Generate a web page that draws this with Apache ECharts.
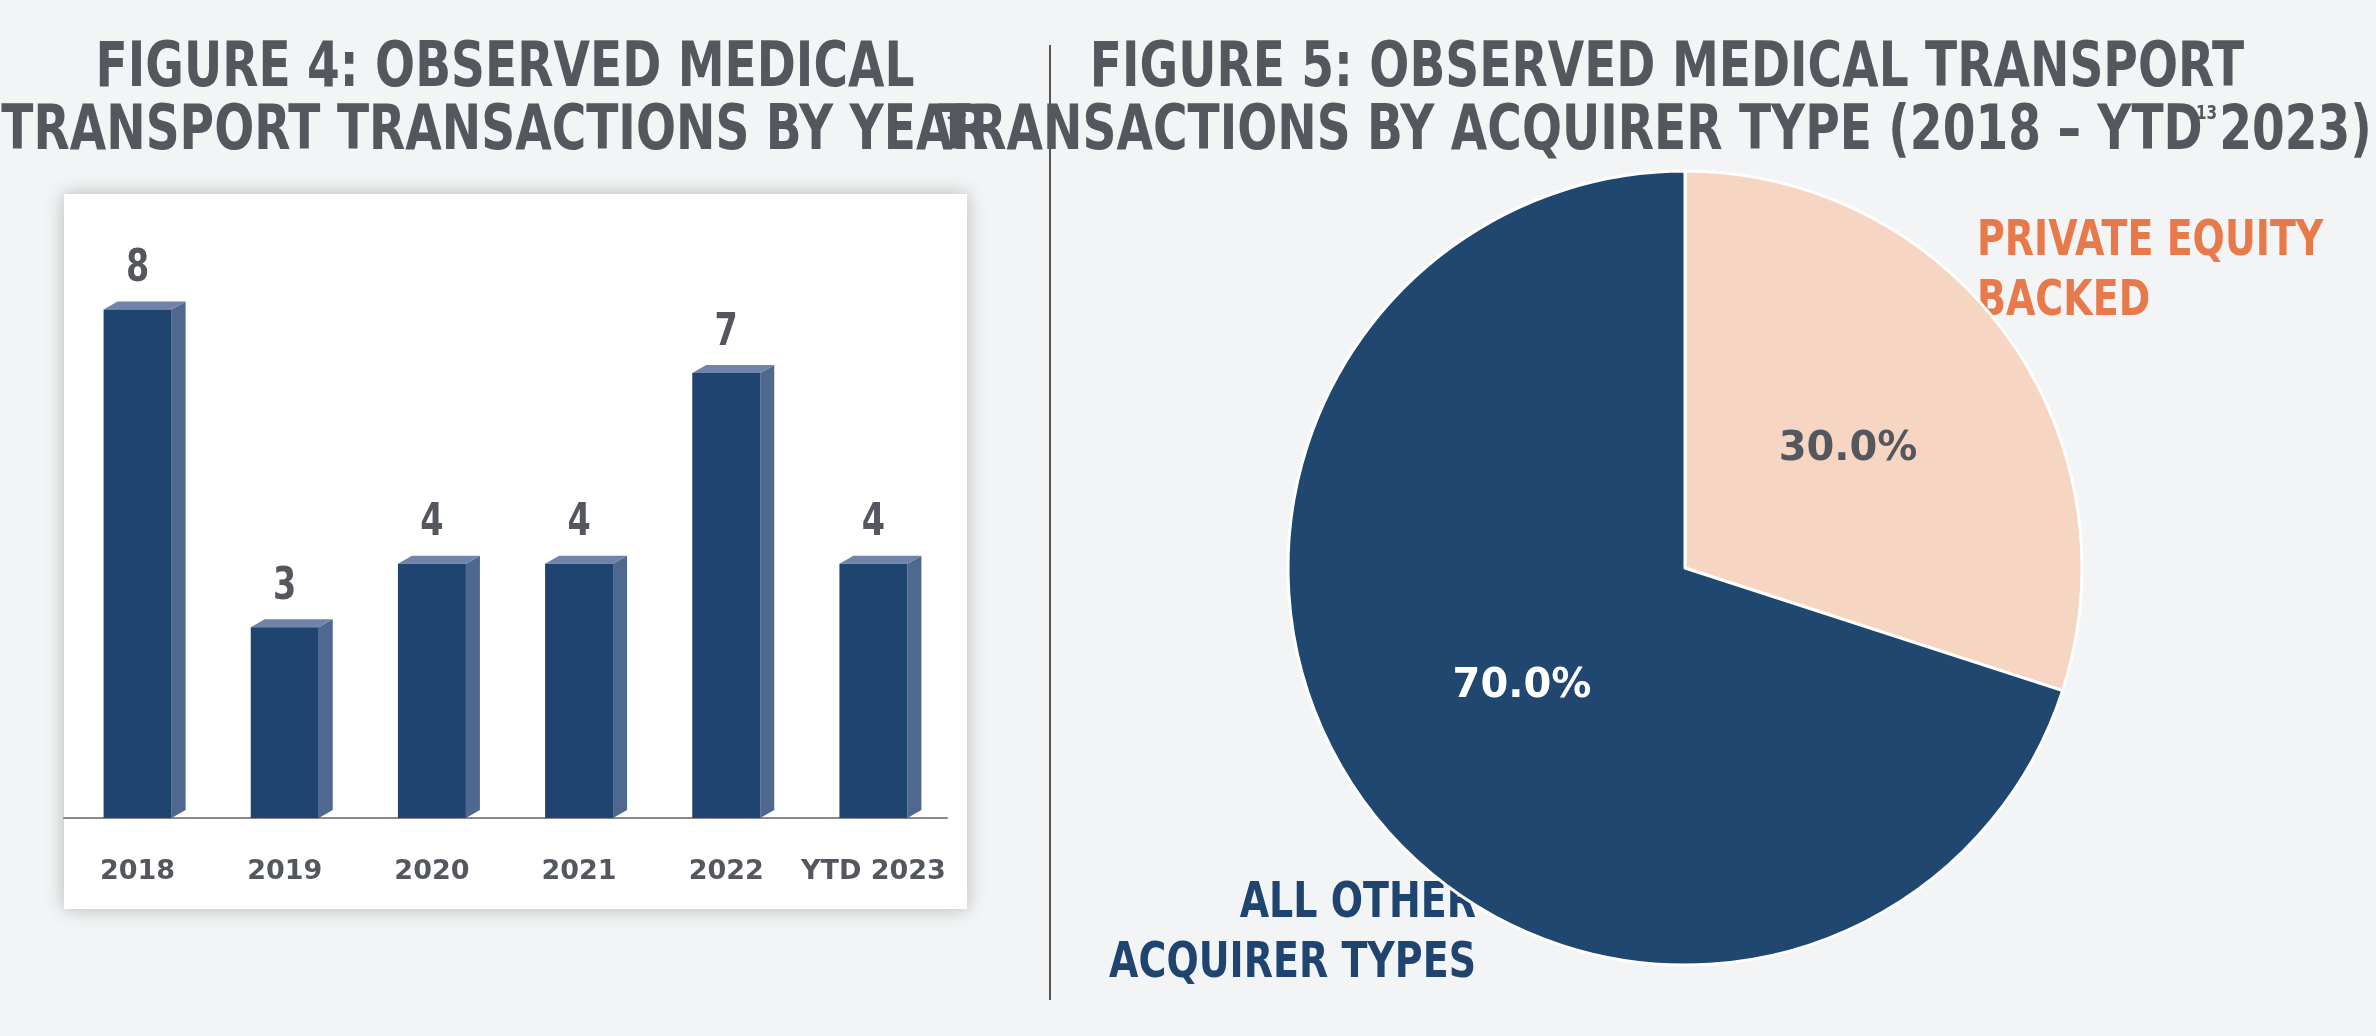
<!DOCTYPE html>
<html>
<head>
<meta charset="utf-8">
<script src="https://cdn.jsdelivr.net/npm/echarts@6/dist/echarts.min.js"></script>
<style>
  html, body { margin: 0; padding: 0; background: #f3f4f5; }
  #chart { width: 2376px; height: 1036px; }
</style>
</head>
<body>
<div id="chart"></div>
<script>
'use strict';
const years = ['2018', '2019', '2020', '2021', '2022', 'YTD 2023'];
const counts = [8, 3, 4, 4, 7, 4];
const acquirerTypes = ['Private Equity Backed', 'All Other Acquirer Types'];
const acquirerShares = [30.0, 70.0];

const FONT = '"DejaVu Sans", sans-serif';
const GREY = '#54585e';
const SX = 0.76;

function txt(text, x, y, size, color, align, extra) {
    return {
        type: 'text', x: x, y: y, scaleX: SX,
        style: Object.assign({ text: text, x: 0, y: 0, align: align || 'center', verticalAlign: 'middle',
            font: 'bold ' + size + 'px ' + FONT, fill: color }, extra || {})
    };
}

function init() {
    const chart = echarts.init(document.getElementById('chart'));

    // 3D-looking bar: side face, top face, front face, value on top
    function renderBar(params, api) {
        const top = api.coord([api.value(0), api.value(1)]);
        const base = api.coord([api.value(0), 0]);
        const w = 68, d = 14, s = 8;
        const x0 = top[0] - w / 2, x1 = top[0] + w / 2;
        return {
            type: 'group',
            children: [
                { type: 'polygon', shape: { points: [[x1, top[1]], [x1 + d, top[1] - s], [x1 + d, base[1] - s], [x1, base[1]]] },
                  style: { fill: '#4f6890' } },
                { type: 'polygon', shape: { points: [[x0, top[1]], [x0 + d, top[1] - s], [x1 + d, top[1] - s], [x1, top[1]]] },
                  style: { fill: '#6f84a8' } },
                { type: 'rect', shape: { x: x0, y: top[1], width: w, height: base[1] - top[1] },
                  style: { fill: '#1f4470' } },
                txt(String(api.value(1)), top[0], top[1] - 40, 44, GREY)
            ]
        };
    }

    const option = {
        backgroundColor: '#f3f4f5',
        graphic: [
            { type: 'rect', shape: { x: 64, y: 194, width: 903, height: 715 },
              style: { fill: '#ffffff', shadowBlur: 18, shadowColor: 'rgba(0,0,0,0.25)' }, z: -10 },
            { type: 'line', shape: { x1: 1050, y1: 45, x2: 1050, y2: 1000 }, style: { stroke: '#555', lineWidth: 2 } },
            txt('FIGURE 4: OBSERVED MEDICAL', 505, 70, 62, GREY),
            txt('TRANSPORT TRANSACTIONS BY YEAR', 495, 133, 62, GREY),
            txt('13', 946, 114, 20, GREY, 'left'),
            txt('FIGURE 5: OBSERVED MEDICAL TRANSPORT', 1667, 70, 62, GREY),
            txt('TRANSACTIONS BY ACQUIRER TYPE (2018 – YTD 2023)', 1655, 133, 62, GREY),
            txt('13', 2196, 114, 20, GREY, 'left'),
            txt('PRIVATE EQUITY\nBACKED', 1977, 272, 50, '#e8794a', 'left', { lineHeight: 60 }),
            txt('ALL OTHER\nACQUIRER TYPES', 1476, 934, 50, '#1f4470', 'right', { lineHeight: 60 })
        ],
        grid: { left: 64, width: 883, top: 246, bottom: 1036 - 818 },
        xAxis: {
            type: 'category',
            data: years,
            axisLine: { lineStyle: { color: '#888', width: 2 } },
            axisTick: { show: false },
            axisLabel: { interval: 0, color: GREY, fontFamily: FONT, fontWeight: 'bold', fontSize: 27, margin: 40 }
        },
        yAxis: { type: 'value', min: 0, max: 9, show: false, splitLine: { show: false } },
        series: [
            {
                type: 'custom',
                renderItem: renderBar,
                data: counts.map((v, i) => [i, v]),
                encode: { x: 0, y: 1 }
            },
            {
                type: 'pie',
                center: [1685, 568],
                radius: 397,
                startAngle: 90,
                clockwise: true,
                label: { show: true, position: 'inside', formatter: (p) => p.value.toFixed(1) + '%',
                    fontFamily: FONT, fontWeight: 'bold', fontSize: 40 },
                labelLine: { show: false },
                itemStyle: { borderColor: '#ffffff', borderWidth: 3 },
                data: acquirerShares.map((v, i) => ({
                    name: acquirerTypes[i],
                    value: v,
                    itemStyle: { color: i === 0 ? '#f6d6c2' : '#1f4770' },
                    label: { color: i === 0 ? GREY : '#ffffff' }
                }))
            }
        ]
    };
    chart.setOption(option);
}

(function () {
    init();
})();
</script>
</body>
</html>
